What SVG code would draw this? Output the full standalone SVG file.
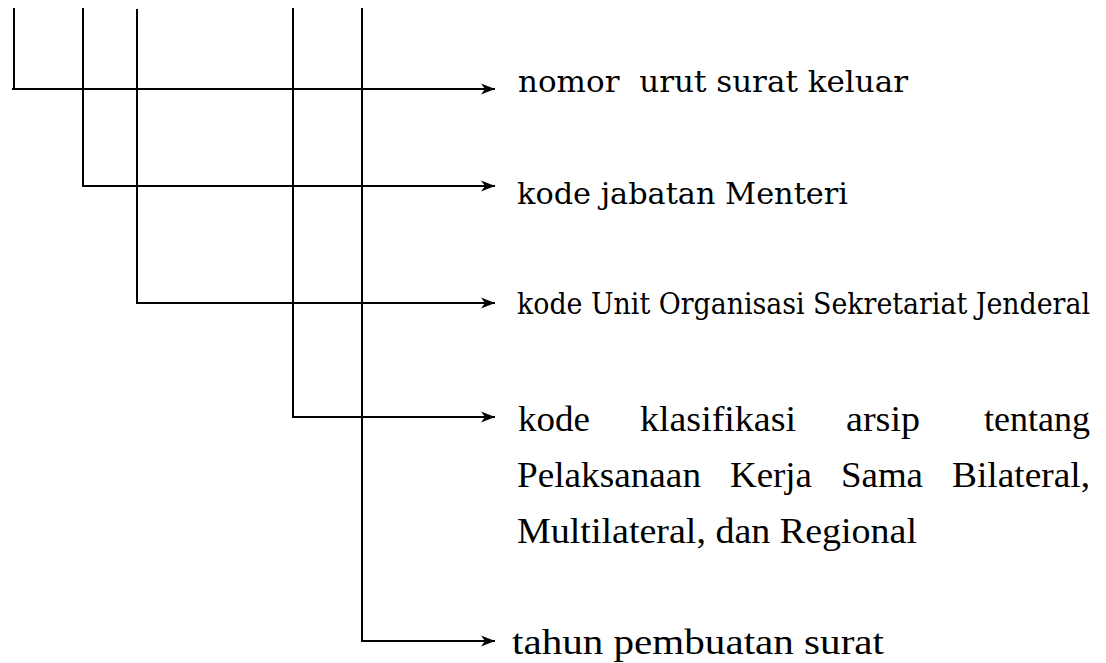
<svg xmlns="http://www.w3.org/2000/svg" width="1106" height="663" viewBox="0 0 1106 663">
<style>
.ln{stroke:#000;stroke-width:2;fill:none}
.bk{font-family:"DejaVu Serif","Liberation Serif",serif;font-size:30px;fill:#000}
.cd{font-stretch:condensed}
.tm{font-family:"Liberation Serif","Times New Roman",serif;font-size:35px;fill:#000}
</style>
<defs>
<marker id="ah" markerUnits="userSpaceOnUse" markerWidth="15" markerHeight="12" refX="14" refY="6" orient="auto">
<path d="M0,0.5 L14,6 L0,11.5 L4,6 z" fill="#000"/>
</marker>
</defs>
<rect width="1106" height="663" fill="#fff"/>
<g id="connectors">
<path class="ln" d="M14,8 V89 M12,89 H495" marker-end="url(#ah)"/>
<path class="ln" d="M83,8 V186 H495" marker-end="url(#ah)"/>
<path class="ln" d="M137,9 V303 H495" marker-end="url(#ah)"/>
<path class="ln" d="M293,8 V417 H495" marker-end="url(#ah)"/>
<path class="ln" d="M362,8 V641 H495" marker-end="url(#ah)"/>
</g>
<g id="node1"><text class="bk" x="518" y="92" textLength="390" lengthAdjust="spacingAndGlyphs" xml:space="preserve">nomor  urut surat keluar</text></g>
<g id="node2"><text class="bk" x="517" y="204" textLength="331" lengthAdjust="spacingAndGlyphs">kode jabatan Menteri</text></g>
<g id="node3"><text class="bk cd" x="517" y="314" textLength="573" lengthAdjust="spacingAndGlyphs">kode Unit Organisasi Sekretariat Jenderal</text></g>
<g id="node4">
<text class="tm" x="518" y="431" textLength="72" lengthAdjust="spacingAndGlyphs">kode</text>
<text class="tm" x="640" y="431" textLength="156" lengthAdjust="spacingAndGlyphs">klasifikasi</text>
<text class="tm" x="846" y="431" textLength="74" lengthAdjust="spacingAndGlyphs">arsip</text>
<text class="tm" x="984" y="431" textLength="106" lengthAdjust="spacingAndGlyphs">tentang</text>
<text class="tm" x="517" y="487" textLength="184" lengthAdjust="spacingAndGlyphs">Pelaksanaan</text>
<text class="tm" x="730" y="487" textLength="82" lengthAdjust="spacingAndGlyphs">Kerja</text>
<text class="tm" x="841" y="487" textLength="82" lengthAdjust="spacingAndGlyphs">Sama</text>
<text class="tm" x="952" y="487" textLength="138" lengthAdjust="spacingAndGlyphs">Bilateral,</text>
<text class="tm" x="517" y="543" textLength="400" lengthAdjust="spacingAndGlyphs">Multilateral, dan Regional</text>
</g>
<g id="node5"><text class="tm" x="512" y="654" textLength="372" lengthAdjust="spacingAndGlyphs">tahun pembuatan surat</text></g>
</svg>
